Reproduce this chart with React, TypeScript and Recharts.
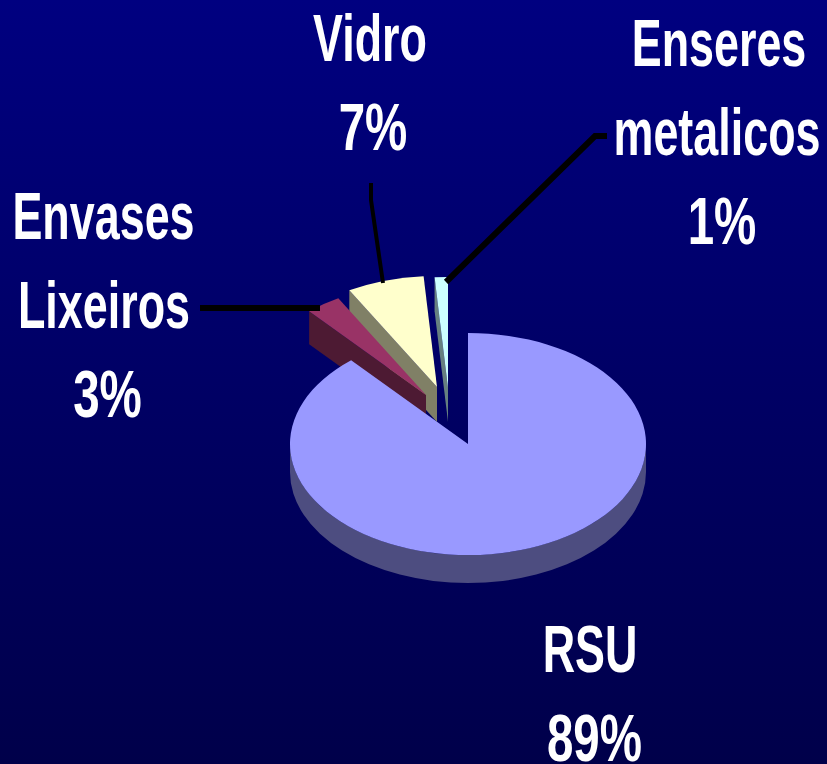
import React from 'react';
import { PieChart, Pie, Cell } from 'recharts';

// drawn in this order, so RSU comes last and sits over the exploded wedges
const categories = ['Enseres metalicos', 'Vidro', 'Envases Lixeiros', 'RSU'];
const values = [1.2, 7, 3.2, 88.6];

const topColors = ['#ccffff', '#ffffcc', '#993366', '#9999ff'];
const sideColors = ['#668080', '#808066', '#4d1a33', '#4d4d80'];

// how far each wedge is pulled out of the pie, px
const explodeX = [-20, -31, -42, 0];
const explodeY = [-56, -57, -49, 0];
const depths = [34, 35, 33, 28];

// centre x of each text line, and baseline of the first line
const labelX = [[719, 717, 722], [370, 373], [103.5, 104, 107.5], [590, 594.5]];
const labelY = [66, 61, 239, 672];

const leaders = [
  '607,136 595,136 446,282',
  '371,183 371,200 383,283',
  '200,308 320,308',
  '',
];

const SQUASH = 0.624; // pie tilt
const NAME_SCALE_X = 0.68;
const PCT_SCALE_X = 0.72;
const LINE_GAP = 89;

const pt = (cx: number, cy: number, rx: number, ry: number, deg: number) => {
  const a = (deg * Math.PI) / 180;
  return [cx + rx * Math.cos(a), cy - ry * Math.sin(a)];
};

function Wedge(props: any) {
  const { cx, cy, outerRadius, startAngle, endAngle } = props;
  const i = categories.indexOf(props.payload?.name ?? props.name);
  const x0 = cx + explodeX[i];
  const y0 = cy + explodeY[i];
  const rx = outerRadius;
  const ry = outerRadius * SQUASH;
  const d = depths[i];
  const hi = Math.max(startAngle, endAngle);
  const lo = Math.min(startAngle, endAngle);

  const [sx, sy] = pt(x0, y0, rx, ry, hi);
  const [ex, ey] = pt(x0, y0, rx, ry, lo);
  const large = hi - lo > 180 ? 1 : 0;

  const top = `M${x0},${y0} L${sx},${sy} A${rx},${ry} 0 ${large} 1 ${ex},${ey} Z`;
  const cut = `M${x0},${y0} L${sx},${sy} L${sx},${sy + d} L${x0},${y0 + d} Z`;

  // rim only shows on the front half of the ellipse
  const from = Math.min(hi, 360);
  const to = Math.max(lo, 180);
  let rim = '';
  if (from > to) {
    const [ax, ay] = pt(x0, y0, rx, ry, from);
    const [bx, by] = pt(x0, y0, rx, ry, to);
    rim = `M${ax},${ay} A${rx},${ry} 0 0 1 ${bx},${by} L${bx},${by + d} A${rx},${ry} 0 0 0 ${ax},${ay + d} Z`;
  }

  return (
    <g>
      <path d={cut} fill={sideColors[i]} />
      {rim && <path d={rim} fill={sideColors[i]} />}
      <path d={top} fill={topColors[i]} />
    </g>
  );
}

function renderLabel(props: any) {
  const i = props.index;
  const lines = [...categories[i].split(' '), `${Math.round(values[i])}%`];
  return (
    <g key={i}>
      {leaders[i] && (
        <polyline points={leaders[i]} fill="none" stroke="#000000" strokeWidth={i === 1 ? 4 : 6} />
      )}
      {lines.map((line, n) => (
        <text
          key={line}
          transform={`translate(${labelX[i][n]},${labelY[i] + n * LINE_GAP}) scale(${
            n === lines.length - 1 ? PCT_SCALE_X : NAME_SCALE_X
          },1)`}
          textAnchor="middle"
          fill="#ffffff"
          fontFamily="Liberation Sans"
          fontWeight="bold"
          fontSize={66}
        >
          {line}
        </text>
      ))}
    </g>
  );
}

const data = categories.map((name, i) => ({ name, value: values[i] }));

export default function App() {
  return (
    <div
      style={{
        position: 'absolute',
        left: 0,
        top: 0,
        width: 827,
        height: 764,
        overflow: 'hidden',
        background: 'linear-gradient(180deg, #000080 0%, #00004a 100%)',
      }}
    >
      <PieChart width={827} height={764} margin={{ top: 0, right: 0, bottom: 0, left: 0 }}>
        <Pie
          data={data}
          dataKey="value"
          nameKey="name"
          cx={468}
          cy={444}
          innerRadius={0}
          outerRadius={178}
          startAngle={90}
          endAngle={450}
          stroke="none"
          shape={Wedge}
          label={renderLabel}
          labelLine={false}
          isAnimationActive={false}
        >
          {categories.map((name, i) => (
            <Cell key={name} fill={topColors[i]} />
          ))}
        </Pie>
      </PieChart>
    </div>
  );
}
